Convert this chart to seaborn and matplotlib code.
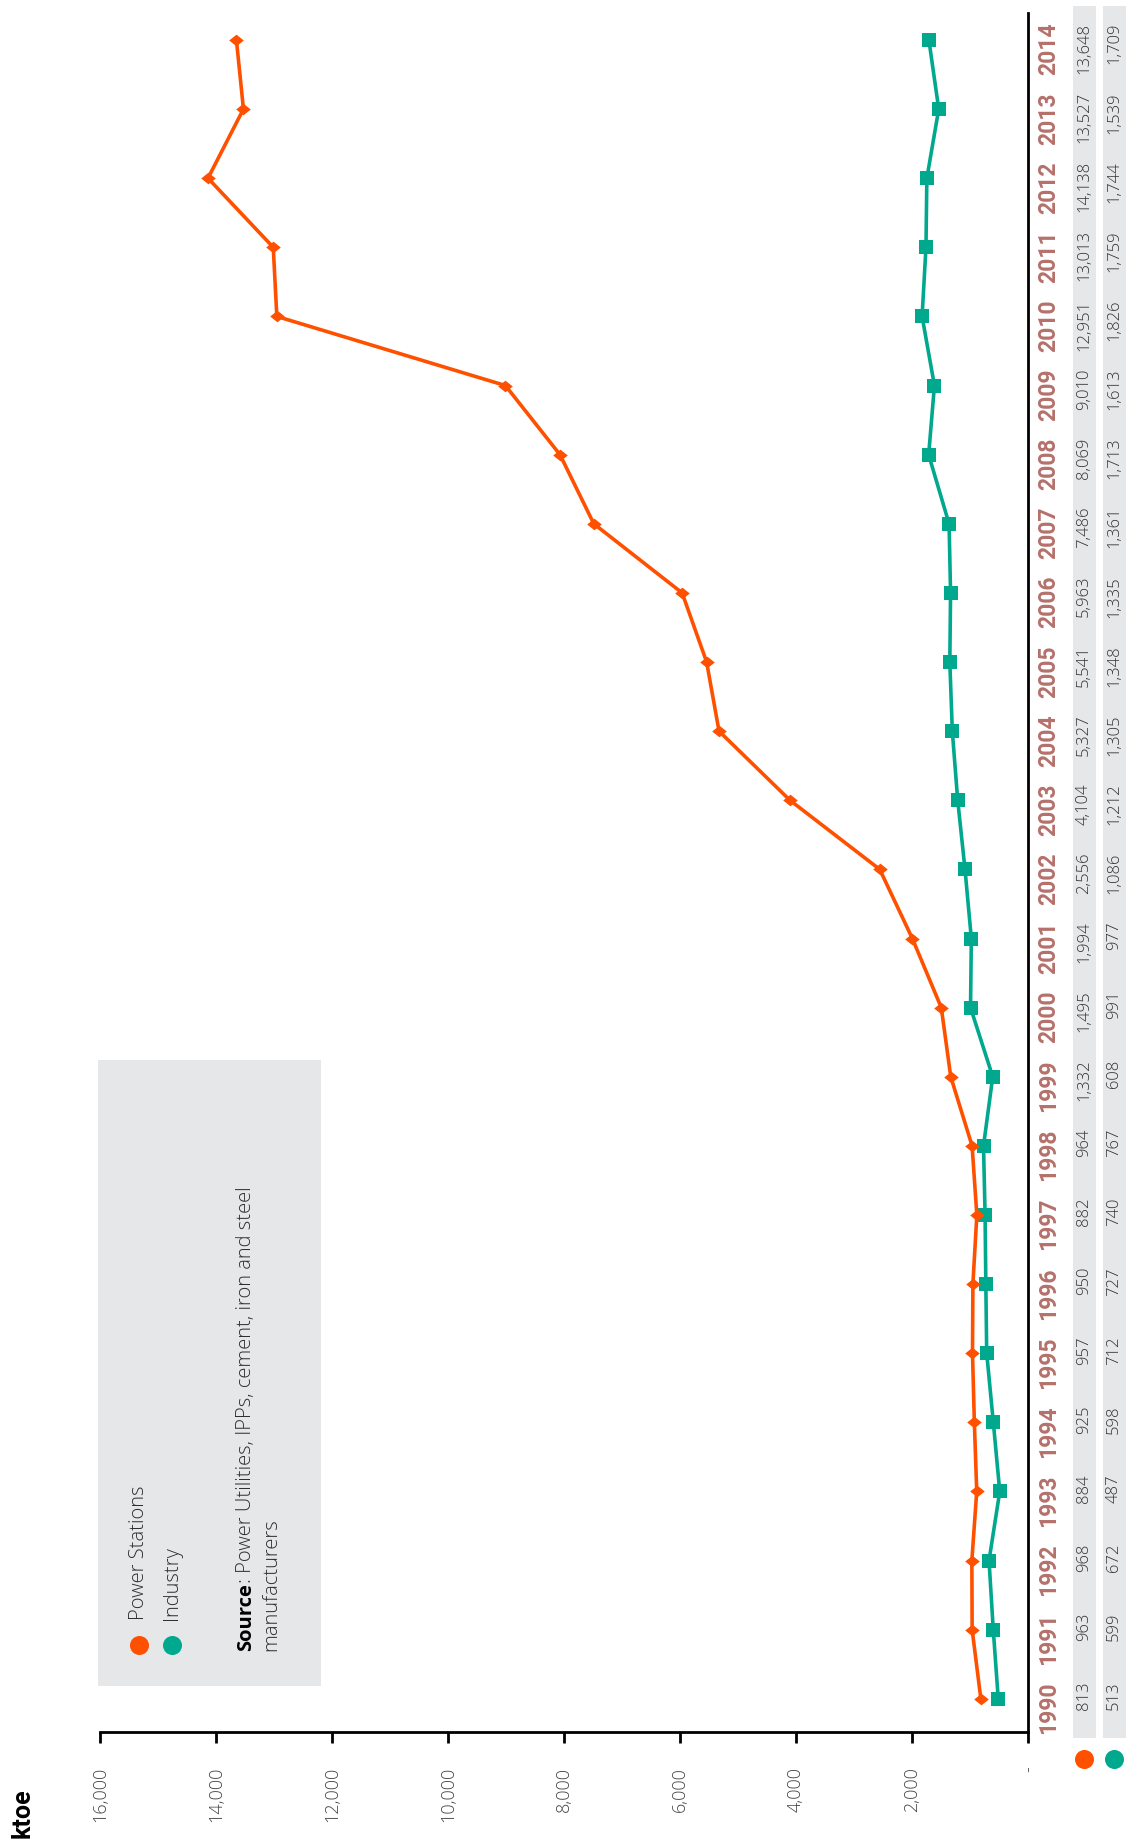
import matplotlib
matplotlib.use("Agg")
import matplotlib.pyplot as plt
import matplotlib.transforms as mtrans
from matplotlib.patches import Rectangle
from matplotlib.lines import Line2D
from matplotlib.path import Path
import numpy as np
import pandas as pd
import seaborn as sns

# ---- data (ktoe) ----
years = list(range(1990, 2015))
power_stations = [813, 963, 968, 884, 925, 957, 950, 882, 964, 1332, 1495, 1994, 2556,
                  4104, 5327, 5541, 5963, 7486, 8069, 9010, 12951, 13013, 14138, 13527, 13648]
industry = [513, 599, 672, 487, 598, 712, 727, 740, 767, 608, 991, 977, 1086,
            1212, 1305, 1348, 1335, 1361, 1713, 1613, 1826, 1759, 1744, 1539, 1709]
series_names = ["Power Stations", "Industry"]
value_ticks = [0, 2000, 4000, 6000, 8000, 10000, 12000, 14000, 16000]
unit_label = "ktoe"
source_bold = "Source"
source_rest = ": Power Utilities, IPPs, cement, iron and steel"
source_line2 = "manufacturers"

ORANGE = "#ff5000"
GREEN = "#00a88e"
YEAR_COLOR = "#b5706a"
PANEL = "#e6e7e8"
NOTE_FONT = ["Open Sans", "DejaVu Sans"]

sns.set_theme(style="white")
plt.rcParams["font.family"] = ["Roboto", "DejaVu Sans"]

W, H = 1132, 1843
fig = plt.figure(figsize=(W / 100, H / 100), dpi=100)


def fx(px):
    return px / W


def fy(py):
    return 1 - py / H


ax = fig.add_axes([fx(100), fy(1732), fx(1028) - fx(100), fy(13) - fy(1732)])
ax.set_facecolor("none")

df = pd.DataFrame({
    "year": years + years,
    "value": power_stations + industry,
    "series": [series_names[0]] * len(years) + [series_names[1]] * len(years),
})

diamond = Path([(-1, 0), (0, 0.8), (1, 0), (0, -0.8), (-1, 0)],
               [Path.MOVETO, Path.LINETO, Path.LINETO, Path.LINETO, Path.CLOSEPOLY])

sns.lineplot(data=df[df.series == series_names[1]], x="value", y="year", orient="y",
             color=GREEN, linewidth=2.6, marker="s", markersize=10.5,
             markeredgewidth=0, ax=ax, legend=False, zorder=3)
sns.lineplot(data=df[df.series == series_names[0]], x="value", y="year", orient="y",
             color=ORANGE, linewidth=2.6, marker=diamond, markersize=10.5,
             markeredgewidth=0, ax=ax, legend=False, zorder=4)

ax.set_xlim(16000, 0)
ax.set_ylim(1989.52, 2014.39)
ax.set_xlabel("")
ax.set_ylabel("")

for side in ("top", "left"):
    ax.spines[side].set_visible(False)
for side in ("bottom", "right"):
    ax.spines[side].set_visible(True)
    ax.spines[side].set_color("black")
    ax.spines[side].set_linewidth(2)

ax.set_xticks(value_ticks)
ax.set_xticklabels(["-" if v == 0 else f"{v:,}" for v in value_ticks])
ax.tick_params(axis="x", bottom=True, direction="out", length=8, width=2,
               color="black", pad=17, labelsize=13, labelcolor="#444444",
               labelrotation=90)
for lab in ax.get_xticklabels():
    lab.set_fontweight("light")
    lab.set_family(NOTE_FONT)
ax.set_yticks([])
ax.grid(False)

# year labels and data table on the right
blend = mtrans.blended_transform_factory(fig.transFigure, ax.transData)
text_tr = mtrans.offset_copy(blend, fig=fig, x=0, y=17, units="dots")

for x0 in (1073, 1103):
    fig.add_artist(Rectangle((fx(x0), fy(1738)), fx(23), (1738 - 6) / H,
                             transform=fig.transFigure, facecolor=PANEL,
                             edgecolor="none", zorder=-1))

for i, yr in enumerate(years):
    ax.text(fx(1048.5), yr, str(yr), transform=text_tr, rotation=90,
            ha="center", va="top", fontsize=16.5, fontweight="bold",
            color=YEAR_COLOR, clip_on=False)
    ax.text(fx(1084), yr, f"{power_stations[i]:,}", transform=text_tr, rotation=90,
            ha="center", va="top", fontsize=12, fontweight="light",
            family=NOTE_FONT, color="#333333", clip_on=False)
    ax.text(fx(1114), yr, f"{industry[i]:,}", transform=text_tr, rotation=90,
            ha="center", va="top", fontsize=12, fontweight="light",
            family=NOTE_FONT, color="#333333", clip_on=False)

for xc, col in ((1084, ORANGE), (1114, GREEN)):
    fig.add_artist(Line2D([fx(xc)], [fy(1759)], marker="o", markersize=13.7,
                          markeredgewidth=0, color=col, linestyle="none",
                          transform=fig.transFigure))

# unit label
fig.text(fx(22.5), fy(1838), unit_label, rotation=90, ha="center", va="bottom",
         fontsize=18, fontweight="bold", color="black")

# legend panel with source note
fig.add_artist(Rectangle((fx(98), fy(1686)), fx(321 - 98), (1686 - 1060) / H,
                         transform=fig.transFigure, facecolor=PANEL,
                         edgecolor="none", zorder=-1))
for (xc, col, name) in ((139, ORANGE, series_names[0]), (172, GREEN, series_names[1])):
    fig.add_artist(Line2D([fx(xc)], [fy(1645)], marker="o", markersize=13.7,
                          markeredgewidth=0, color=col, linestyle="none",
                          transform=fig.transFigure))
    fig.text(fx(xc), fy(1620), name, rotation=90, ha="center", va="bottom",
             fontsize=14.5, family=NOTE_FONT, fontweight="light",
             color="#2e2e2e")

t_bold = fig.text(fx(246), fy(1651), source_bold, rotation=90, ha="center",
                  va="bottom", fontsize=14.5, family=NOTE_FONT,
                  fontweight="bold", color="black")
fig.canvas.draw()
bb = t_bold.get_window_extent(renderer=fig.canvas.get_renderer())
fig.text(fx(246), bb.y1 / H, source_rest, rotation=90, ha="center", va="bottom",
         fontsize=14.5, family=NOTE_FONT, fontweight="light", color="#2e2e2e")
fig.text(fx(271), fy(1651), source_line2, rotation=90, ha="center", va="bottom",
         fontsize=14.5, family=NOTE_FONT, fontweight="light", color="#2e2e2e")

fig.savefig("out.png", dpi=100)
